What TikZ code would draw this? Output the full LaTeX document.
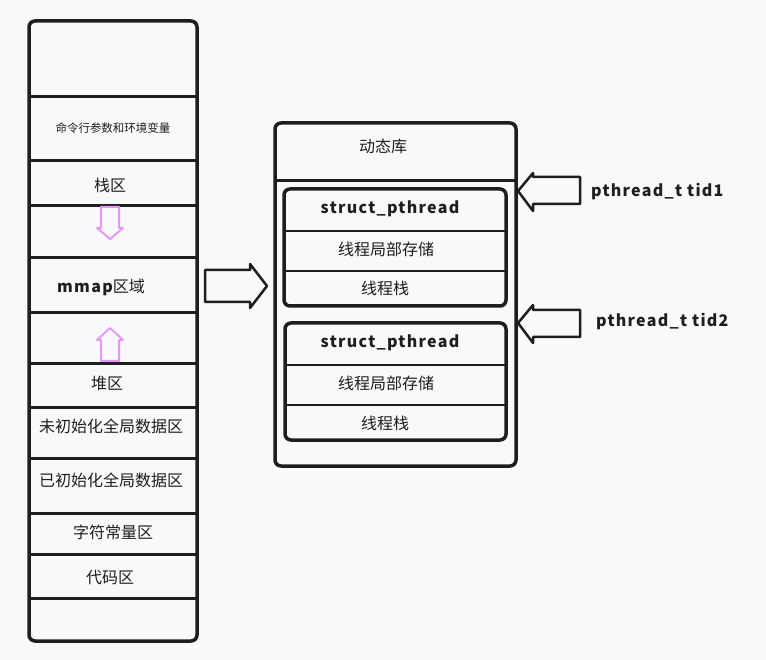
\documentclass[tikz,border=0pt]{standalone}
\usepackage{fontspec}
\setmainfont{Noto Sans CJK SC}
\newfontfamily\handfont[LetterSpace=8]{Noto Sans CJK SC}
\usetikzlibrary{positioning}
\definecolor{ink}{RGB}{30,30,30}
\definecolor{bgpaper}{RGB}{248,249,251}
\definecolor{pinkarrow}{RGB}{229,153,247}
\tikzset{
  frame/.style={draw=ink, line width=3.5pt, rounded corners=6pt},
  divider/.style={draw=ink, line width=3pt},
  rowtext/.style={font=\fontsize{16}{18}\selectfont, text=ink, inner sep=0pt},
  handtext/.style={font=\handfont\bfseries\fontsize{16}{18}\selectfont, text=ink, inner sep=0pt},
  blockarrow/.style={draw=ink, line width=2.5pt, line join=round},
  growarrow/.style={draw=pinkarrow, line width=2pt, line join=round},
}
\begin{document}
\begin{tikzpicture}[x=1pt,y=-1pt]
    \fill[bgpaper] (0,0) rectangle (766,660);
    % process memory layout
    \draw[frame] (29,21) rectangle (197,641);
    \foreach \y in {97,161,206,258,313,364,407,458,513,554,598}
        \draw[divider] (29,\y) -- (197,\y);
    \node[rowtext, font=\fontsize{11.5}{13}\selectfont] (args) at (113,128) {命令行参数和环境变量};
    \node[rowtext] (stack) at (110,185) {栈区};
    \node[rowtext] (mmap) at (101,287) {{\handfont\bfseries mmap}区域};
    \node[rowtext] (heap) at (107,383) {堆区};
    \node[rowtext] (bss) at (111,426) {未初始化全局数据区};
    \node[rowtext] (data) at (111,480) {已初始化全局数据区};
    \node[rowtext] (rodata) at (113,532) {字符常量区};
    \node[rowtext] (text) at (110,578) {代码区};
    % growth directions
    \draw[growarrow] (101,207) -- (119,207) -- (119,228) -- (123,228) -- (110,239) -- (97,228) -- (101,228) -- cycle;
    \draw[growarrow] (101,361) -- (119,361) -- (119,340) -- (123,340) -- (110,328) -- (97,340) -- (101,340) -- cycle;
    % mmap region zoomed
    \draw[blockarrow] (205,270) -- (250,270) -- (250,264) -- (267,286) -- (250,308) -- (250,302) -- (205,302) -- cycle;
    \draw[frame] (275,123) rectangle (516,466);
    \draw[divider] (275,181) -- (516,181);
    \node[rowtext] (dynlib) at (383,146) {动态库};
    % thread 1
    \draw[frame] (284,189) rectangle (506,306);
    \draw[divider, line width=2.5pt] (284,231) -- (506,231);
    \draw[divider, line width=2.5pt] (284,271) -- (506,271);
    \node[handtext] (sp1) at (390,209) {struct\_pthread};
    \node[rowtext] (tls1) at (386,249) {线程局部存储};
    \node[rowtext] (tstack1) at (385,288) {线程栈};
    % thread 2
    \draw[frame] (285,323) rectangle (506,440);
    \draw[divider, line width=2.5pt] (285,365) -- (506,365);
    \draw[divider, line width=2.5pt] (285,405) -- (506,405);
    \node[handtext] (sp2) at (390,343) {struct\_pthread};
    \node[rowtext] (tls2) at (386,383) {线程局部存储};
    \node[rowtext] (tstack2) at (385,423) {线程栈};
    % thread handles
    \draw[blockarrow] (518,191) -- (533,173) -- (533,177) -- (580,177) -- (580,204) -- (533,204) -- (533,211) -- cycle;
    \draw[blockarrow] (518,323) -- (533,305) -- (533,310) -- (580,310) -- (580,337) -- (533,337) -- (533,343) -- cycle;
    \node[handtext, anchor=west] (tid1) at (591,192) {pthread\_t tid1};
    \node[handtext, anchor=west] (tid2) at (596,322) {pthread\_t tid2};
\end{tikzpicture}
\end{document}
